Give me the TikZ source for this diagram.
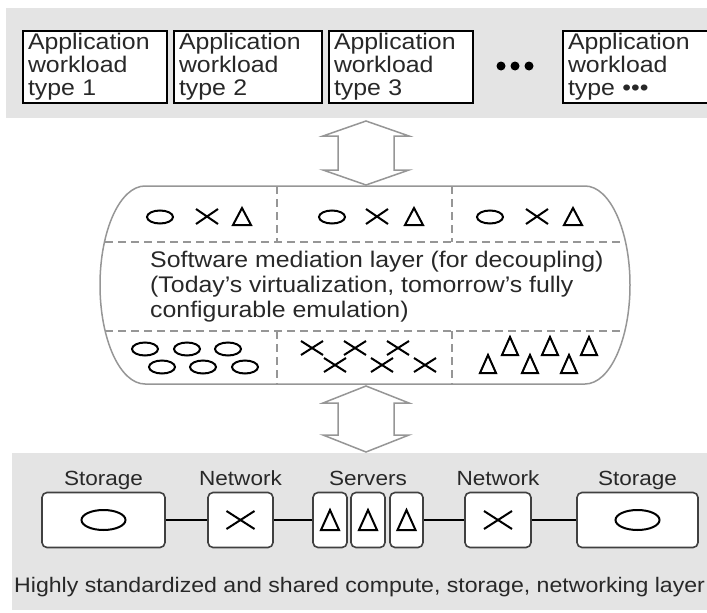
\documentclass[tikz,border=0pt]{standalone}
\usepackage{fontspec}
\setmainfont{Liberation Sans}[FakeStretch=1.1]
\usetikzlibrary{positioning,calc}
\definecolor{bandgray}{RGB}{228,228,228}
\definecolor{edgegray}{RGB}{150,150,150}
\definecolor{textgray}{RGB}{40,40,40}
\tikzset{
  band/.style={fill=bandgray, draw=none},
  appbox/.style={draw=black, line width=2pt, fill=white, inner xsep=5pt, inner ysep=0pt,
    minimum height=72pt, text width=#1, align=left, text=textgray,
    font=\fontsize{22.6}{23}\selectfont},
  hwbox/.style={draw=black!75, line width=1.6pt, fill=white, rounded corners=5pt,
    minimum height=55pt, inner sep=0pt},
  hwlabel/.style={inner sep=0pt, text height=15pt, text depth=4.5pt, text=textgray,
    font=\fontsize{20.5}{22}\selectfont},
  link/.style={draw=black, line width=1.8pt},
  sym/.style={draw=black, line width=2pt},
  medline/.style={draw=edgegray, line width=1.5pt},
  meddash/.style={draw=edgegray, line width=1.3pt, dash pattern=on 8pt off 5pt},
  bigarrow/.style={draw=edgegray, line width=1.5pt, fill=white, line join=miter}
}

\begin{document}
\begin{tikzpicture}[x=1pt, y=-1pt]
  \useasboundingbox (0,0) rectangle (707,613);
  % layers
  \fill[band] (6,8) rectangle (707,118);
  \fill[band] (12,453) rectangle (707,610);
  % application workloads
  \node[appbox=134pt, anchor=north west] (app1) at (22,30) {Application\\workload\\type 1};
  \node[appbox=138pt, anchor=north west] (app2) at (173,30) {Application\\workload\\type 2};
  \node[appbox=134pt, anchor=north west] (app3) at (328,30) {Application\\workload\\type 3};
  \node[appbox=140pt, anchor=north west] (app4) at (562,30) {Application\\workload\\type \textbullet\textbullet\textbullet};
  \foreach \x in {501,515,529}{\fill[black] (\x,66) circle[radius=4.5];}
  % double arrows
  \foreach \ya/\yb/\yc/\yd in {121/136/170/185, 386/403/435/452}{
    \draw[bigarrow] (366,\ya) -- (409,\yb) -- (394,\yb) -- (394,\yc) -- (409,\yc) -- (366,\yd)
      -- (323,\yc) -- (338,\yc) -- (338,\yb) -- (323,\yb) -- cycle;}
  % mediation layer
  \draw[medline] (145,186) -- (585,186) arc[start angle=-90, end angle=90, x radius=45, y radius=99]
    -- (145,384) arc[start angle=90, end angle=270, x radius=45, y radius=99] -- cycle;
  \draw[meddash] (105,242) -- (625,242);
  \draw[meddash] (105,331) -- (625,331);
  \foreach \x in {277,452}{
    \draw[meddash] (\x,186) -- (\x,242);
    \draw[meddash] (\x,331) -- (\x,384);}
  \foreach \x in {160,332,490}{\draw[sym] (\x,217) ellipse[x radius=13, y radius=6.5];}
  \foreach \x in {207,377,537}{\draw[sym] (\x-11,209) -- (\x+11,224) (\x-11,224) -- (\x+11,209);}
  \foreach \x in {242,414,573}{\draw[sym] (\x-9,225) -- (\x,208) -- (\x+9,225) -- cycle;}
  \node[anchor=west, align=left, inner sep=0pt, text=textgray,
    font=\fontsize{22.6}{25}\selectfont] (medtxt) at (150,287)
    {Software mediation layer (for decoupling)\\(Today's virtualization, tomorrow's fully\\configurable emulation)};
  \foreach \x in {145,187,228}{\draw[sym] (\x,349) ellipse[x radius=13, y radius=6.5];}
  \foreach \x in {162,203,245}{\draw[sym] (\x,367) ellipse[x radius=13, y radius=6.5];}
  \foreach \x/\y in {312/348,355/348,398/348,335/365,382/365,425/365}{
    \draw[sym] (\x-11,\y-7) -- (\x+11,\y+7) (\x-11,\y+7) -- (\x+11,\y-7);}
  \foreach \x/\y in {488/364,530/364,569/364,510/346,550/346,589/346}{
    \draw[sym] (\x-8,\y+9) -- (\x,\y-9) -- (\x+8,\y+9) -- cycle;}
  % shared hardware layer
  \node[hwbox, minimum width=123pt] (st1) at (103.5,520) {};
  \node[hwbox, minimum width=65pt] (net1) at (240.5,520) {};
  \node[hwbox, minimum width=34pt] (srv1) at (330,520) {};
  \node[hwbox, minimum width=34pt] (srv2) at (368,520) {};
  \node[hwbox, minimum width=33pt] (srv3) at (406.5,520) {};
  \node[hwbox, minimum width=66pt] (net2) at (498,520) {};
  \node[hwbox, minimum width=121pt] (st2) at (637.5,520) {};
  \node[hwlabel, above=2pt of st1] (lst1) {Storage};
  \node[hwlabel, above=2pt of net1] (lnet1) {Network};
  \node[hwlabel, above=2pt of srv2] (lsrv) {Servers};
  \node[hwlabel, above=2pt of net2] (lnet2) {Network};
  \node[hwlabel, above=2pt of st2] (lst2) {Storage};
  \draw[link] (st1) -- (net1);
  \draw[link] (net1) -- (srv1);
  \draw[link] (srv3) -- (net2);
  \draw[link] (net2) -- (st2);
  \foreach \n in {st1,st2}{\draw[sym] (\n.center) ellipse[x radius=22, y radius=10];}
  \foreach \n in {net1,net2}{\draw[sym] ($(\n.center)+(-14,-9)$) -- ($(\n.center)+(14,9)$)
    ($(\n.center)+(-14,9)$) -- ($(\n.center)+(14,-9)$);}
  \foreach \n in {srv1,srv2,srv3}{\draw[sym] ($(\n.center)+(-9,10)$) -- ($(\n.center)+(0,-10)$)
    -- ($(\n.center)+(9,10)$) -- cycle;}
  \node[anchor=west, inner sep=0pt, text=textgray, font=\fontsize{21}{23}\selectfont] (hwtxt)
    at (14,587) {Highly standardized and shared compute, storage, networking layer};
\end{tikzpicture}
\end{document}
